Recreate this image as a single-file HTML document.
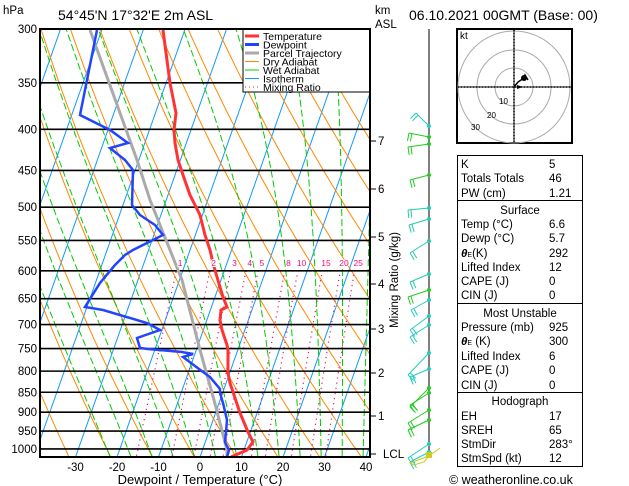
<!DOCTYPE html>
<html><head><meta charset="utf-8"><style>
body{margin:0;background:#fff;width:629px;height:486px;overflow:hidden}
svg{display:block}
text{font-family:"Liberation Sans",sans-serif;fill:#000}
</style></head><body>
<svg id="s" width="629" height="486" viewBox="0 0 629 486" xmlns="http://www.w3.org/2000/svg">
<defs><clipPath id="c"><rect x="40" y="29" width="330" height="428"/></clipPath></defs>
<g id="grid" clip-path="url(#c)"></g>
<g id="data" clip-path="url(#c)">
<polyline fill="none" stroke="#aaaaaa" stroke-width="3" points="227,457 227,450 214,400 200,350 191,315 182,280 170,250 150,200 137,160 120,113 90,30"/>
<polyline fill="none" stroke="#ff3333" stroke-width="3" points="231,457 247,450 253,442 248,432 240,413 230,383 228,373 228,350 227,345 222,330 220,320 221,310 227,307 223,297 217,277 213,263 210,250 205,235 200,215 190,195 183,175 178,160 175,143 174,130 176,113 170,83 163,30"/>
<polyline fill="none" stroke="#2244ff" stroke-width="2.5" points="227,457 229,450 225,442 226,432 227,420 223,403 220,393 220,389 210,377 203,372 183,357 193,354 182,352 148,349 140,348 137,338 160,330 147,323 103,310 85,307 100,283 115,265 125,255 133,250 163,235 155,225 140,215 132,205 133,170 125,160 110,148 128,143 110,130 80,115 97,30"/>
</g>
<g id="mrl" clip-path="url(#c)"></g>
<g id="legend">
<rect x="243" y="29" width="127" height="63" fill="#fff" stroke="#000" stroke-width="1"/>
<line x1="245" y1="36" x2="259" y2="36" stroke="#ff3333" stroke-width="3"/>
<line x1="245" y1="44.5" x2="259" y2="44.5" stroke="#2244ff" stroke-width="3"/>
<line x1="245" y1="53" x2="259" y2="53" stroke="#aaaaaa" stroke-width="3"/>
<line x1="245" y1="61.5" x2="259" y2="61.5" stroke="#ff8800" stroke-width="1"/>
<line x1="245" y1="70" x2="259" y2="70" stroke="#00cc00" stroke-width="1"/>
<line x1="245" y1="78.5" x2="259" y2="78.5" stroke="#1199ff" stroke-width="1"/>
<line x1="245" y1="87" x2="259" y2="87" stroke="#ee1177" stroke-width="1" stroke-dasharray="1,3"/>
<g font-size="10.5"><text x="263" y="40">Temperature</text><text x="263" y="48.5">Dewpoint</text><text x="263" y="57">Parcel Trajectory</text><text x="263" y="65.5">Dry Adiabat</text><text x="263" y="74">Wet Adiabat</text><text x="263" y="82.5">Isotherm</text><text x="263" y="91">Mixing Ratio</text></g>
</g>
<rect x="40" y="29" width="330" height="428" fill="none" stroke="#000" stroke-width="2"/>
<g id="labels" font-size="11.5"></g>
<text x="3" y="14" font-size="11.5">hPa</text>
<text x="58" y="20" font-size="14">54°45'N  17°32'E  2m  ASL</text>
<text x="375" y="14" font-size="11.5">km</text>
<text x="375" y="28" font-size="11.5">ASL</text>
<text x="409" y="20" font-size="14">06.10.2021  00GMT  (Base: 00)</text>
<text x="200" y="484" font-size="13" text-anchor="middle">Dewpoint / Temperature (°C)</text>
<text transform="translate(398,280) rotate(-90)" font-size="11.5" text-anchor="middle">Mixing Ratio (g/kg)</text>
<line x1="429" y1="29" x2="429" y2="457" stroke="#000" stroke-width="1"/>
<g id="barbs" fill="none" stroke-width="1"></g>
<g id="hodo">
<rect x="457" y="29" width="115" height="114" fill="#fff" stroke="#000" stroke-width="2"/>
<g fill="none" stroke="#aaa"><circle cx="514" cy="87" r="19"/><circle cx="514" cy="87" r="37"/><circle cx="514" cy="87" r="56"/></g>
<line x1="458" y1="87" x2="571" y2="87" stroke="#000" stroke-width="1.5" stroke-dasharray="1,2"/>
<line x1="514" y1="30" x2="514" y2="142" stroke="#000" stroke-width="1.5" stroke-dasharray="1,2"/>
<line x1="458" y1="87" x2="571" y2="87" stroke="#000" stroke-width="1"/>
<line x1="514" y1="30" x2="514" y2="142" stroke="#000" stroke-width="1"/>
<polyline points="514,87 518,82 524,78 525,75 528,80" fill="none" stroke="#000" stroke-width="1.5"/>
<circle cx="524" cy="78" r="3"/>
<path d="M517,85 l6,2 l-6,2z"/>
<text x="460" y="39" font-size="10">kt</text>
<g font-size="8" fill="#aaa"><text x="499" y="104" fill="#aaa">10</text><text x="487" y="118" fill="#aaa">20</text><text x="471" y="130" fill="#aaa">30</text></g>
</g>
<g fill="none" stroke="#000" stroke-width="1">
<rect x="457.5" y="155.5" width="125" height="45"/>
<rect x="457.5" y="200.5" width="125" height="103"/>
<rect x="457.5" y="303.5" width="125" height="89"/>
<rect x="457.5" y="392.5" width="125" height="74"/>
</g>
<g font-size="11.5">
<text x="461" y="168">K</text><text x="549" y="168">5</text>
<text x="461" y="182">Totals Totals</text><text x="549" y="182">46</text>
<text x="461" y="197">PW (cm)</text><text x="549" y="197">1.21</text>
<text x="520" y="214" text-anchor="middle">Surface</text>
<text x="461" y="228">Temp (°C)</text><text x="549" y="228">6.6</text>
<text x="461" y="242">Dewp (°C)</text><text x="549" y="242">5.7</text>
<text x="461" y="257"><tspan font-weight="bold" font-style="italic">θ</tspan><tspan font-size="7">E</tspan>(K)</text><text x="549" y="257">292</text>
<text x="461" y="271">Lifted Index</text><text x="549" y="271">12</text>
<text x="461" y="285">CAPE (J)</text><text x="549" y="285">0</text>
<text x="461" y="299">CIN (J)</text><text x="549" y="299">0</text>
<text x="520" y="317" text-anchor="middle">Most Unstable</text>
<text x="461" y="331">Pressure (mb)</text><text x="549" y="331">925</text>
<text x="461" y="345"><tspan font-weight="bold" font-style="italic">θ</tspan><tspan font-size="7">E</tspan> (K)</text><text x="549" y="345">300</text>
<text x="461" y="360">Lifted Index</text><text x="549" y="360">6</text>
<text x="461" y="374">CAPE (J)</text><text x="549" y="374">0</text>
<text x="461" y="389">CIN (J)</text><text x="549" y="389">0</text>
<text x="520" y="405" text-anchor="middle">Hodograph</text>
<text x="461" y="420">EH</text><text x="549" y="420">17</text>
<text x="461" y="434">SREH</text><text x="549" y="434">65</text>
<text x="461" y="448">StmDir</text><text x="549" y="448">283°</text>
<text x="461" y="462">StmSpd (kt)</text><text x="549" y="462">12</text>
</g>
<text x="449" y="484" font-size="12.5">© weatheronline.co.uk</text>
</svg>
<script>
(function(){
var NS="http://www.w3.org/2000/svg";
function el(p,t,a,txt){var e=document.createElementNS(NS,t);for(var k in a)e.setAttribute(k,a[k]);if(txt!==undefined)e.textContent=txt;p.appendChild(e);return e;}
function Y(p){return 29+348.8*Math.log(p/300);}
function X(T,y){return 200+4.15*T+0.353*(457-y);}
var g=document.getElementById('grid');
for(var T=-120;T<=40;T+=10){var y1=457,y2=29;el(g,'line',{x1:X(T,y1),y1:y1,x2:X(T,y2),y2:y2,stroke:'#1199ff','stroke-width':1});}
function pts(f,p0,p1){var s=[];for(var p=p0;p>=p1;p-=10){var t=f(p);if(t===null)continue;var y=Y(p);s.push(X(t,y).toFixed(1)+','+y.toFixed(1));}return s.join(' ');}
for(var th=230;th<=480;th+=10){(function(th){el(g,'polyline',{points:pts(function(p){return th*Math.pow(p/1000,0.286)-273.15;},1050,290),fill:'none',stroke:'#ff8800','stroke-width':1});})(th);}
function es(T){return 6.112*Math.exp(17.67*T/(T+243.5));}
for(var tw=-20;tw<=40;tw+=5){var s=[];var t=tw+273.15;for(var p=1050;p>=290;p-=5){
 var y=Y(p);s.push(X(t-273.15,y).toFixed(1)+','+y.toFixed(1));
 var e=es(t-273.15),rs=0.622*e/(p-e),L=2.5e6,Rd=287,cp=1004;
 var dTdp=(Rd*t+L*rs)/(p*(cp+L*L*rs*0.622/(Rd*t*t)));t-=dTdp*5;}
 el(g,'polyline',{points:s.join(' '),fill:'none',stroke:'#00cc00','stroke-width':1,'stroke-dasharray':'7,3'});}
var M=document.getElementById('mrl');
var ws=[1,2,3,4,5,8,10,15,20,25];
ws.forEach(function(w){var f=function(p){var e=w*p/(622+w);var l=Math.log(e/6.112);return 243.5*l/(17.67-l)+1.5;};
 el(g,'polyline',{points:pts(f,1050,600),fill:'none',stroke:'#ee1177','stroke-width':1.2,'stroke-dasharray':'1.2,4'});
 var y=Y(600)-5;el(M,'text',{x:X(f(600),y)+2,y:y,'font-size':'8.5','text-anchor':'middle',fill:'#ee1177',stroke:'#fff','stroke-width':'2','paint-order':'stroke',style:'fill:#ee1177'},String(w));});
var L=document.getElementById('labels');
for(var p=300;p<=1000;p+=50){var y=Y(p);el(g,'line',{x1:40,y1:y,x2:370,y2:y,stroke:'#000','stroke-width':1.6});
 el(L,'text',{x:37,y:y+4,'text-anchor':'end'},String(p));}
for(var T=-30;T<=40;T+=10){el(L,'text',{x:200+4.15*T,y:471,'text-anchor':'middle'},String(T));}
[[7,141],[6,189],[5,237],[4,284],[3,329],[2,373],[1,416]].forEach(function(k){el(L,'line',{x1:370,y1:k[1],x2:376,y2:k[1],stroke:'#000'});el(L,'text',{x:378,y:k[1]+4},String(k[0]));});
el(L,'line',{x1:370,y1:454,x2:376,y2:454,stroke:'#000'});el(L,'text',{x:383,y:458},'LCL');
var B=document.getElementById('barbs');
var bb=[[126,416,113,'#22ccbb'],[137,409,133,'#22cc22'],[144,408,147,'#22cc22'],[175,410,180,'#22cc22'],[208,408,210,'#22ccaa'],[219,409,225,'#22ccaa'],[241,410,253,'#22ccaa'],[274,410,282,'#22ccaa'],[290,408,297,'#22cc22'],[300,411,310,'#22ccbb'],[316,410,330,'#22ccbb'],[325,410,337,'#22ccbb'],[353,408,375,'#22ccbb'],[369,410,377,'#22ccbb'],[388,410,407,'#22cc22'],[393,410,405,'#22cc22'],[410,408,423,'#22cc22'],[420,408,430,'#22cc22'],[444,408,458,'#22ccbb'],[452,410,462,'#22ccbb']];
bb.forEach(function(b){var c=b[3];el(B,'line',{x1:429,y1:b[0],x2:b[1],y2:b[2],stroke:c});
 var dx=b[1]-429,dy=b[2]-b[0],l=Math.sqrt(dx*dx+dy*dy),ux=dx/l,uy=dy/l;
 for(var i=0;i<2;i++){var bx=b[1]-ux*i*3,by=b[2]-uy*i*3;el(B,'line',{x1:bx,y1:by,x2:bx+uy*8,y2:by-ux*8,stroke:c});}
 el(B,'circle',{cx:429,cy:b[0],r:2,fill:c,stroke:'none'});});
el(B,'rect',{x:426,y:452,width:6,height:6,fill:'#cccc22',stroke:'none'});
el(B,'polyline',{points:'429,456 424,462 414,465 410,463 429,456 440,448',stroke:'#cccc22'});
})();
</script>
</body></html>
